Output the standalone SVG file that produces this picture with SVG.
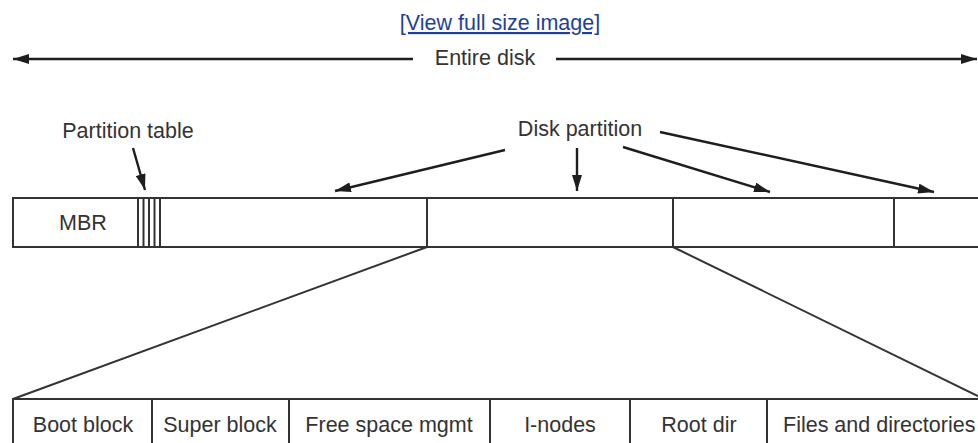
<svg xmlns="http://www.w3.org/2000/svg" width="978" height="443" viewBox="0 0 978 443">
<defs>
<marker id="ah" viewBox="0 0 16 10" refX="16" refY="5" markerWidth="16" markerHeight="10" markerUnits="userSpaceOnUse" orient="auto">
<path d="M0,0 L16,5 L0,10 Z" fill="#1e1e1e"/>
</marker>
<style>
.t{font-family:"Liberation Sans",Arial,sans-serif;font-size:21.5px;fill:#333;text-anchor:middle}
.box{fill:#fff;stroke:#333;stroke-width:2}
.ln{stroke:#333;stroke-width:2;fill:none}
.ar{stroke:#1e1e1e;stroke-width:2.4;fill:none;marker-end:url(#ah)}
.link{font-family:"Liberation Sans",Arial,sans-serif;font-size:21.5px;fill:#1f3f9c;text-anchor:middle;text-decoration:underline}
</style>
</defs>
<rect width="978" height="443" fill="#fff"/>
<g id="link"><text class="link" x="500" y="30">[View full size image]</text></g>
<g id="entire-disk"><text class="t" x="485" y="65">Entire disk</text></g>
<g id="partition-table-label"><text class="t" x="128" y="138">Partition table</text></g>
<g id="disk-partition-label"><text class="t" x="580" y="136">Disk partition</text></g>
<g id="disk">
<rect class="box" x="13" y="198" width="990" height="49"/>
<text class="t" x="83" y="230">MBR</text>
<line class="ln" x1="138" y1="198" x2="138" y2="247"/>
<line class="ln" x1="143.5" y1="198" x2="143.5" y2="247"/>
<line class="ln" x1="149" y1="198" x2="149" y2="247"/>
<line class="ln" x1="154.5" y1="198" x2="154.5" y2="247"/>
<line class="ln" x1="160" y1="198" x2="160" y2="247"/>
<line class="ln" x1="427" y1="198" x2="427" y2="247"/>
<line class="ln" x1="673" y1="198" x2="673" y2="247"/>
<line class="ln" x1="894" y1="198" x2="894" y2="247"/>
</g>
<g id="partition-layout">
<rect class="box" x="13" y="399" width="990" height="60"/>
<line class="ln" x1="152" y1="399" x2="152" y2="443"/>
<line class="ln" x1="289" y1="399" x2="289" y2="443"/>
<line class="ln" x1="490" y1="399" x2="490" y2="443"/>
<line class="ln" x1="630" y1="399" x2="630" y2="443"/>
<line class="ln" x1="767" y1="399" x2="767" y2="443"/>
<text class="t" x="83" y="432">Boot block</text>
<text class="t" x="220" y="432">Super block</text>
<text class="t" x="389" y="432">Free space mgmt</text>
<text class="t" x="560" y="432">I-nodes</text>
<text class="t" x="699" y="432">Root dir</text>
<text class="t" x="783" y="432" style="text-anchor:start">Files and directories</text>
</g>
<g id="connectors">
<line class="ar" x1="413" y1="59" x2="13" y2="59"/>
<line class="ar" x1="556" y1="59" x2="977" y2="59"/>
<line class="ar" x1="133" y1="148" x2="145" y2="190"/>
<line class="ar" x1="505" y1="150" x2="335" y2="191"/>
<line class="ar" x1="577" y1="148" x2="577" y2="191"/>
<line class="ar" x1="623" y1="147" x2="770" y2="192"/>
<line class="ar" x1="660" y1="132" x2="934" y2="192"/>
<line class="ln" x1="427" y1="247" x2="13" y2="399"/>
<line class="ln" x1="673" y1="247" x2="984" y2="399"/>
</g>
</svg>
